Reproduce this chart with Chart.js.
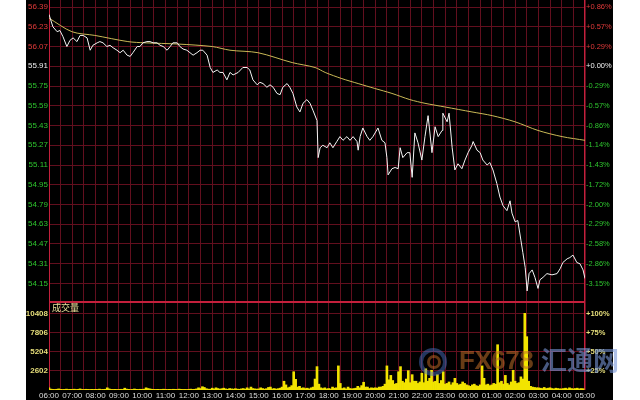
<!DOCTYPE html>
<html>
<head>
<meta charset="utf-8">
<script src="https://cdn.jsdelivr.net/npm/chart.js@4.4.1/dist/chart.umd.min.js"></script>
<style>
  body { margin: 0; background: #fff; width: 640px; height: 400px; position: relative; overflow: hidden; }
  canvas { position: absolute; left: 0; }
  #wm { position: absolute; left: 0; top: 0; width: 640px; height: 400px; pointer-events: none; }
  #logo { position: absolute; left: 419px; top: 348px; width: 20px; height: 20px; border-radius: 50%;
          border: 4px solid rgba(70, 110, 190, 0.5); }
  #logo2 { position: absolute; left: 427px; top: 355px; width: 8px; height: 8px; border-radius: 50%;
           border: 3px solid rgba(200, 110, 40, 0.5); }
  #fx { position: absolute; left: 459px; top: 345px; font: bold 26px "Liberation Sans", sans-serif;
        color: rgba(190, 110, 40, 0.55); letter-spacing: -0.5px; }
  #ht { position: absolute; left: 541px; top: 343px; font: bold 26px "Noto Sans CJK SC", sans-serif;
        color: rgba(120, 150, 215, 0.6); line-height: 32px; }
</style>
</head>
<body>
<canvas id="priceChart" width="640" height="302" style="top:0"></canvas>
<canvas id="volChart" width="640" height="98" style="top:302px"></canvas>
<div id="wm">
  <div id="logo"></div><div id="logo2"></div>
  <div id="fx">FX678</div>
  <div id="ht">汇通网</div>
</div>
<script>
// minutes after 06:00 and price
var priceMins = [0, 10, 21, 28, 36, 46, 54, 62, 72, 80, 88, 98, 106, 113, 124, 131, 139, 149, 157, 165,
  175, 183, 191, 201, 209, 216, 227, 234, 242, 252, 260, 268, 278, 286, 294, 304, 312, 319, 330, 337,
  345, 355, 363, 371, 381, 389, 396, 407, 415, 422, 433, 440, 448, 458, 466, 474, 487, 499, 510, 517,
  525, 536, 543, 551, 561, 569, 577, 587, 595, 602, 613, 620, 628, 638, 646, 654, 664, 672, 680, 690,
  693, 698, 705, 716, 723, 731, 741, 749, 757, 767, 775, 783, 793, 796, 801, 808, 819, 826, 834, 847,
  857, 865, 870, 873, 883, 891, 899, 904, 911, 922, 929, 935, 942, 950, 960, 968, 976, 986, 994, 1002,
  1012, 1014, 1025, 1030, 1038, 1045, 1053, 1063, 1071, 1079, 1089, 1092, 1102, 1110, 1117, 1128, 1135, 1143, 1153, 1161,
  1169, 1179, 1187, 1192, 1200, 1207, 1215, 1220, 1226, 1231, 1236, 1244, 1251, 1259, 1264, 1272, 1282, 1295, 1308, 1316,
  1323, 1334, 1341, 1349, 1359, 1367, 1375, 1380];
var priceVals = [56.33, 56.23, 56.19, 56.20, 56.15, 56.07, 56.12, 56.14, 56.11, 56.16, 56.16, 56.14, 56.04, 56.08, 56.10, 56.11, 56.10, 56.07, 56.08, 56.06,
  56.04, 56.02, 56.04, 56.00, 55.99, 56.02, 56.07, 56.07, 56.10, 56.11, 56.11, 56.10, 56.10, 56.08, 56.07, 56.04, 56.07, 56.10, 56.10, 56.07,
  56.05, 56.04, 56.02, 56.00, 56.02, 56.04, 56.04, 56.00, 55.90, 55.86, 55.88, 55.86, 55.86, 55.80, 55.86, 55.84, 55.86, 55.90, 55.90, 55.88,
  55.80, 55.76, 55.78, 55.77, 55.74, 55.76, 55.74, 55.69, 55.68, 55.74, 55.77, 55.74, 55.69, 55.58, 55.54, 55.61, 55.64, 55.61, 55.55, 55.47,
  55.17, 55.25, 55.27, 55.25, 55.29, 55.25, 55.30, 55.34, 55.31, 55.34, 55.31, 55.34, 55.30, 55.23, 55.34, 55.41, 55.34, 55.31, 55.34, 55.41,
  55.31, 55.29, 55.17, 55.03, 55.08, 55.09, 55.08, 55.25, 55.17, 55.21, 55.21, 55.01, 55.37, 55.29, 55.15, 55.34, 55.51, 55.21, 55.42, 55.34,
  55.39, 55.53, 55.46, 55.53, 55.25, 55.07, 55.12, 55.08, 55.15, 55.21, 55.27, 55.30, 55.23, 55.21, 55.15, 55.11, 55.13, 55.07, 54.96, 54.85,
  54.78, 54.74, 54.82, 54.72, 54.65, 54.66, 54.50, 54.40, 54.28, 54.09, 54.23, 54.26, 54.20, 54.11, 54.18, 54.20, 54.23, 54.22, 54.23, 54.27,
  54.32, 54.35, 54.36, 54.38, 54.32, 54.31, 54.26, 54.19];

// yellow average line
var avgMins = [0, 59, 118, 203, 247, 332, 420, 466, 538, 626, 685, 711, 754, 796, 839, 883, 929, 968, 1020, 1089, 1141, 1200, 1259, 1321, 1380];
var avgVals = [56.30, 56.19, 56.16, 56.11, 56.10, 56.09, 56.07, 56.04, 56.02, 55.94, 55.90, 55.86, 55.81, 55.77, 55.73, 55.69, 55.64, 55.61, 55.58, 55.54, 55.51, 55.46, 55.39, 55.34, 55.31];

// volume, one value per 5 minutes, one row per hour
var volVals = [
  300, 120, 80, 60, 100, 150, 90, 60, 80, 120, 70, 90,
  80, 110, 60, 90, 150, 70, 60, 100, 80, 60, 90, 70,
  90, 70, 120, 60, 80, 100, 300, 150, 80, 70, 90, 60,
  70, 100, 80, 250, 120, 90, 60, 80, 140, 90, 70, 100,
  90, 120, 300, 200, 150, 100, 80, 70, 90, 60, 80, 110,
  80, 60, 90, 70, 100, 80, 60, 120, 90, 70, 80, 60,
  90, 120, 80, 100, 150, 300, 200, 450, 350, 180, 120, 100,
  250, 150, 300, 200, 120, 180, 250, 150, 100, 200, 150, 120,
  180, 120, 100, 150, 200, 120, 300, 150, 400, 200, 150, 120,
  150, 300, 200, 120, 180, 350, 400, 150, 200, 120, 180, 250,
  400, 1200, 700, 300, 400, 600, 2500, 1460, 400, 500, 250, 300,
  200, 250, 150, 300, 400, 1500, 3200, 800, 300, 200, 300, 150,
  200, 150, 400, 250, 300, 3300, 900, 200, 300, 150, 400, 200,
  150, 200, 250, 500, 300, 600, 1060, 400, 400, 200, 300, 250,
  300, 250, 400, 400, 500, 800, 3300, 1400, 2000, 1300, 800, 900,
  2500, 3200, 1200, 1000, 1500, 2650, 1000, 2100, 1200, 1200, 900, 1100,
  2300, 1000, 2900, 1200, 1600, 2700, 1100, 1200, 2100, 900, 1300, 2500,
  800, 900, 1100, 700, 1000, 1600, 900, 700, 800, 1100, 900, 700,
  600, 500, 700, 800, 600, 500, 700, 3300, 1600, 700, 800, 600,
  700, 900, 800, 6200, 1000, 1200, 800, 2000, 900, 700, 1100, 2700,
  1200, 900, 1000, 1800, 1500, 10500, 7300, 1200, 500, 400, 350, 300,
  300, 250, 200, 350, 200, 250, 300, 200, 150, 250, 200, 150,
  150, 200, 250, 150, 300, 200, 150, 200, 250, 150, 200, 180
];

var priceTicks = [56.39, 56.23, 56.07, 55.91, 55.75, 55.59, 55.43, 55.27, 55.11, 54.95, 54.79, 54.63, 54.47, 54.31, 54.15];
var pctTicks = ['+0.86%', '+0.57%', '+0.29%', '+0.00%', '-0.29%', '-0.57%', '-0.86%', '-1.14%', '-1.43%', '-1.72%', '-2.00%', '-2.29%', '-2.58%', '-2.86%', '-3.15%'];
var volTicks = [2602, 5204, 7806, 10408];
var volPctTicks = ['+25%', '+50%', '+75%', '+100%'];
var hours = ['06:00', '07:00', '08:00', '09:00', '10:00', '11:00', '12:00', '13:00', '14:00', '15:00', '16:00', '17:00',
  '18:00', '19:00', '20:00', '21:00', '22:00', '23:00', '00:00', '01:00', '02:00', '03:00', '04:00', '05:00'];
var prevClose = 55.91;

var gridColor = '#620f1e';
var frameColor = '#c4203c';
var red = '#e23a3a', green = '#2ec42e';
var tickFont = { family: 'Liberation Sans', size: 8 };
var rightFont = { family: 'Liberation Sans', size: 7.5 };
var blackRight = 613;
var pad = { left: 26, right: 12, top: 0, bottom: 0 };
var rightAxisW = 43;

// half hour grid lines
var gridMins = [];
for (var m = 0; m <= 1380; m += 30) gridMins.push(m);

const noPad = (s) => { s.paddingTop = 0; s.paddingBottom = 0; s.paddingLeft = 0; s.paddingRight = 0; };

const frame = {
  id: 'frame',
  beforeDraw(chart) {
    const ctx = chart.ctx;
    ctx.save();
    ctx.fillStyle = '#000';
    ctx.fillRect(pad.left, 0, blackRight - pad.left, chart.height);
    ctx.restore();
  },
  beforeDatasetsDraw(chart, args, opts) {
    const { ctx, chartArea: a } = chart;
    ctx.save();
    ctx.strokeStyle = frameColor;
    ctx.lineWidth = 1;
    ctx.beginPath();
    if (opts.top) { ctx.moveTo(a.left, a.top + 0.5); ctx.lineTo(a.right, a.top + 0.5); }
    ctx.moveTo(a.left + 0.5, a.top); ctx.lineTo(a.left + 0.5, a.bottom);
    ctx.moveTo(a.right - 0.5, a.top); ctx.lineTo(a.right - 0.5, a.bottom);
    ctx.moveTo(a.left, a.bottom - 0.5); ctx.lineTo(a.right, a.bottom - 0.5);
    ctx.stroke();
    ctx.restore();
  },
  afterDraw(chart, args, opts) {
    if (!opts.title) return;
    const { ctx, chartArea: a } = chart;
    ctx.save();
    ctx.fillStyle = '#e8e09a';
    ctx.font = '9px "Noto Sans CJK SC"';
    ctx.textBaseline = 'middle';
    ctx.fillText(opts.title, a.left + 3, 6);
    ctx.restore();
  }
};

const priceColor = (v) => v > prevClose + 0.001 ? red : (v < prevClose - 0.001 ? green : '#f0f0f0');

new Chart(document.getElementById('priceChart'), {
  type: 'line',
  data: {
    datasets: [
      {
        data: priceMins.map((m, i) => ({ x: m, y: priceVals[i] })),
        borderColor: '#f4f4f4', borderWidth: 1, pointRadius: 0, tension: 0,
      },
      {
        data: avgMins.map((m, i) => ({ x: m, y: avgVals[i] })),
        borderColor: '#c9b956', borderWidth: 1, pointRadius: 0, tension: 0.3,
      },
    ],
  },
  plugins: [frame],
  options: {
    responsive: false, animation: false,
    layout: { padding: pad },
    plugins: { legend: { display: false }, tooltip: { enabled: false }, frame: { top: false } },
    scales: {
      x: {
        type: 'linear', min: 0, max: 1380,
        afterBuildTicks: (s) => { s.ticks = gridMins.map((v) => ({ value: v })); },
        afterFit: (s) => { s.height = 0; noPad(s); },
        ticks: { display: false },
        grid: { color: gridColor, drawTicks: false },
        border: { display: false },
      },
      y: {
        position: 'left', min: 54.0, max: 56.447,
        afterBuildTicks: (s) => { s.ticks = priceTicks.map((v) => ({ value: v })); },
        afterFit: (s) => { s.width = 23; noPad(s); },
        ticks: {
          font: tickFont, padding: 1, autoSkip: false,
          color: (c) => priceColor(c.tick.value),
          callback: (v) => v.toFixed(2),
        },
        grid: { color: gridColor, drawTicks: false },
        border: { display: false },
      },
      y2: {
        position: 'right', min: 54.0, max: 56.447,
        afterBuildTicks: (s) => { s.ticks = priceTicks.map((v) => ({ value: v })); },
        afterFit: (s) => { s.width = rightAxisW; noPad(s); },
        ticks: {
          font: rightFont, padding: 1, autoSkip: false,
          color: (c) => priceColor(c.tick.value),
          callback: (v, i) => pctTicks[i],
        },
        grid: { display: false, drawTicks: false },
        border: { display: false },
      },
    },
  },
});

new Chart(document.getElementById('volChart'), {
  type: 'bar',
  data: {
    datasets: [
      {
        data: volVals.map((v, i) => ({ x: i * 5, y: v })),
        backgroundColor: '#f2e400', borderWidth: 0, barThickness: 2,
      },
    ],
  },
  plugins: [frame],
  options: {
    responsive: false, animation: false,
    layout: { padding: pad },
    plugins: { legend: { display: false }, tooltip: { enabled: false }, frame: { top: true, title: '成交量' } },
    scales: {
      x: {
        type: 'linear', min: 0, max: 1380, offset: false,
        afterBuildTicks: (s) => { s.ticks = gridMins.map((v) => ({ value: v })); },
        afterFit: (s) => { s.height = 10; noPad(s); },
        ticks: {
          font: tickFont, color: '#dcdcdc', padding: 1, autoSkip: false, maxRotation: 0,
          callback: (v, i) => (i % 2 === 0 ? hours[i / 2] : ''),
        },
        grid: { color: gridColor, drawTicks: false, offset: false },
        border: { display: false },
      },
      y: {
        position: 'left', min: 0, max: 12050,
        afterBuildTicks: (s) => { s.ticks = volTicks.map((v) => ({ value: v })); },
        afterFit: (s) => { s.width = 23; noPad(s); },
        ticks: {
          font: { family: 'Liberation Sans', size: 8, weight: 'bold' }, color: '#e6de7a', padding: 1, autoSkip: false,
          callback: (v) => String(v),
        },
        grid: { color: gridColor, drawTicks: false },
        border: { display: false },
      },
      y2: {
        position: 'right', min: 0, max: 12050,
        afterBuildTicks: (s) => { s.ticks = volTicks.map((v) => ({ value: v })); },
        afterFit: (s) => { s.width = rightAxisW; noPad(s); },
        ticks: {
          font: { family: 'Liberation Sans', size: 7.5, weight: 'bold' }, color: '#e6de7a', padding: 1, autoSkip: false,
          callback: (v, i) => volPctTicks[i],
        },
        grid: { display: false, drawTicks: false },
        border: { display: false },
      },
    },
  },
});
</script>
</body>
</html>
